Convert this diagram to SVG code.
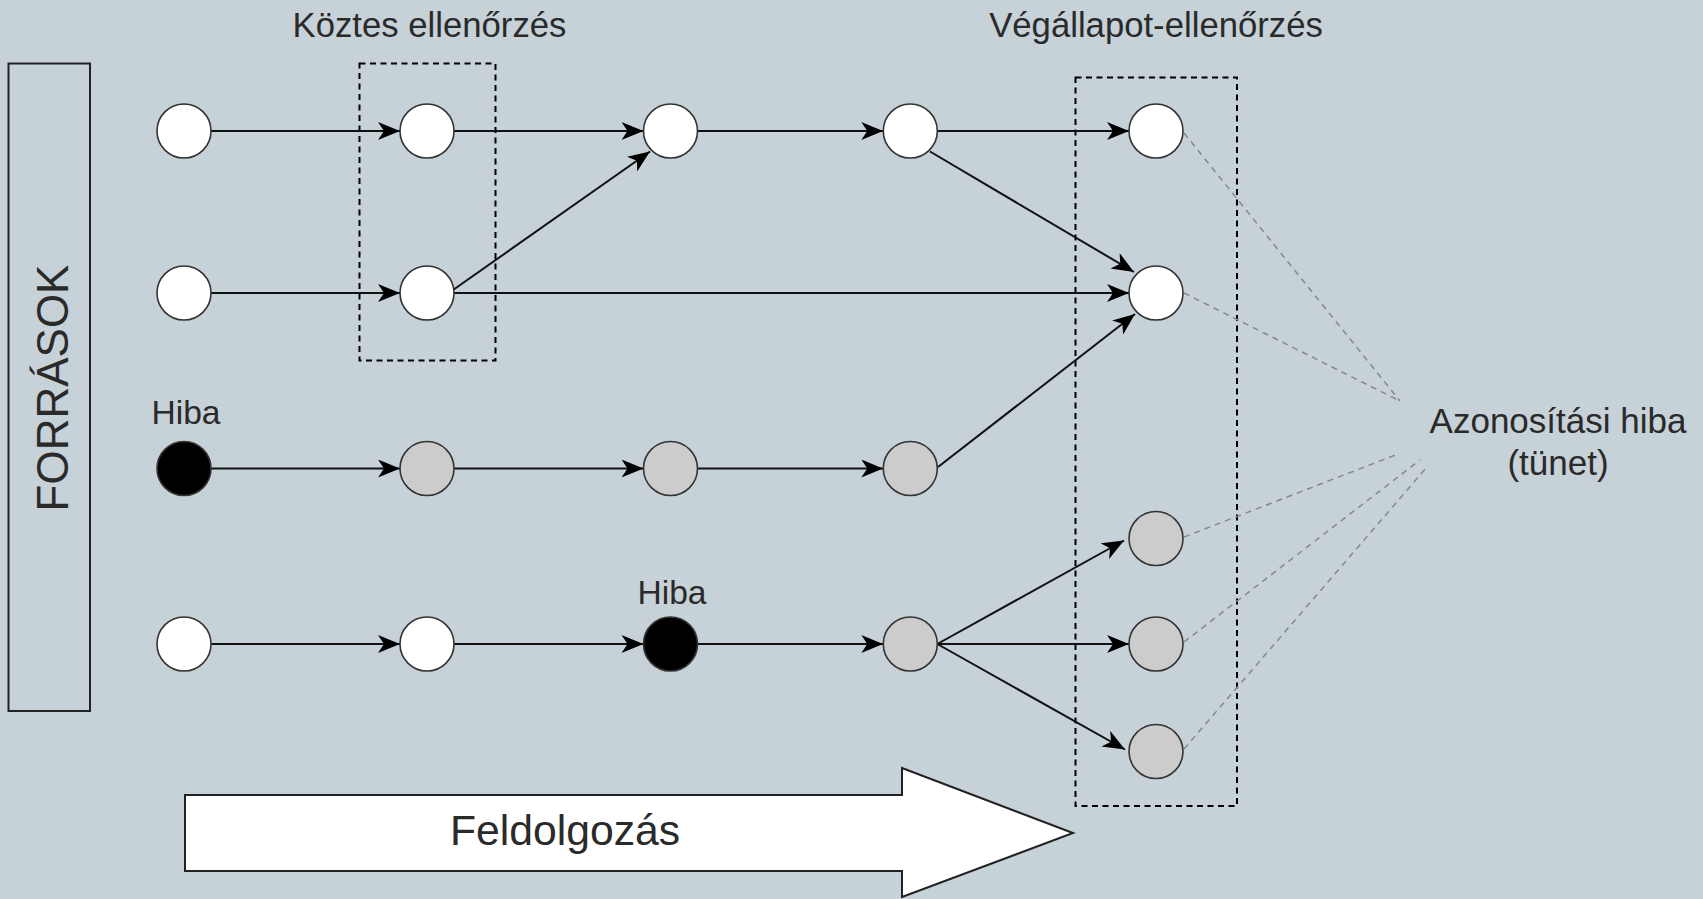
<svg xmlns="http://www.w3.org/2000/svg" width="1703" height="899" viewBox="0 0 1703 899">
<defs>
<marker id="arr" viewBox="0 0 22 18" refX="22" refY="9" markerWidth="22" markerHeight="18" markerUnits="userSpaceOnUse" orient="auto">
<path d="M0,0 L22,9 L0,18 L6,9 Z" fill="#000"/>
</marker>
<style>
.t{font-family:"Liberation Sans",Arial,sans-serif;fill:#2a2a2a;}
.n{stroke:#333;stroke-width:1.6;}
.w{fill:#fff;}
.g{fill:#ccc;}
.b{fill:#000;}
.e{stroke:#111;stroke-width:2;fill:none;marker-end:url(#arr);}
.d{stroke:#000;stroke-width:2;fill:none;stroke-dasharray:6 4.5;}
.s{stroke:#888;stroke-width:1.5;fill:none;stroke-dasharray:6 5;}
</style>
</defs>
<rect width="1703" height="899" fill="#c6d1d8"/>

<g id="forrasok">
<rect x="8.5" y="63.5" width="81.5" height="647.5" fill="none" stroke="#222" stroke-width="2"/>
<text class="t" x="68" y="388" transform="rotate(-90 68 388)" text-anchor="middle" font-size="44">FORRÁSOK</text>
</g>

<g id="koztes-box">
<rect class="d" x="359.5" y="63.5" width="136" height="297"/>
<text class="t" x="429.5" y="37" text-anchor="middle" font-size="34.7">Köztes ellenőrzés</text>
</g>

<g id="vegallapot-box">
<rect class="d" x="1075.5" y="77.5" width="161.5" height="728.5"/>
<text class="t" x="1156" y="37" text-anchor="middle" font-size="34.7">Végállapot-ellenőrzés</text>
</g>

<g id="feldolgozas">
<polygon points="185,795 902,795 902,768 1073,833 902,897 902,871 185,871" fill="#fff" stroke="#222" stroke-width="2"/>
<text class="t" x="565" y="845" text-anchor="middle" font-size="42.7">Feldolgozás</text>
</g>

<g id="connectors">
<line class="e" x1="211" y1="131" x2="400" y2="131"/>
<line class="e" x1="454" y1="131" x2="643.5" y2="131"/>
<line class="e" x1="697.5" y1="131" x2="883.3" y2="131"/>
<line class="e" x1="937.3" y1="131" x2="1129" y2="131"/>

<line class="e" x1="211" y1="293" x2="400" y2="293"/>
<line class="e" x1="454" y1="293" x2="1129" y2="293"/>
<line class="e" x1="453" y1="290" x2="650" y2="151.5"/>
<line class="e" x1="930" y1="151.5" x2="1134" y2="272"/>

<line class="e" x1="211" y1="468.5" x2="400" y2="468.5"/>
<line class="e" x1="454" y1="468.5" x2="643.5" y2="468.5"/>
<line class="e" x1="697.5" y1="468.5" x2="883.3" y2="468.5"/>
<line class="e" x1="938" y1="467" x2="1135" y2="314"/>

<line class="e" x1="211" y1="644" x2="400" y2="644"/>
<line class="e" x1="454" y1="644" x2="643.5" y2="644"/>
<line class="e" x1="697.5" y1="644" x2="883.3" y2="644"/>
<line class="e" x1="937.3" y1="644" x2="1124" y2="540.5"/>
<line class="e" x1="937.3" y1="644" x2="1129" y2="644"/>
<line class="e" x1="937.3" y1="644" x2="1125" y2="749.5"/>

<line class="s" x1="1184" y1="133" x2="1400" y2="401"/>
<line class="s" x1="1184" y1="293" x2="1400" y2="401"/>
<line class="s" x1="1184" y1="537" x2="1398" y2="454"/>
<line class="s" x1="1184" y1="642" x2="1420" y2="460"/>
<line class="s" x1="1184" y1="749" x2="1427" y2="467"/>
</g>

<g id="r1c1"><circle class="n w" cx="184" cy="131" r="27"/></g>
<g id="r1c2"><circle class="n w" cx="427" cy="131" r="27"/></g>
<g id="r1c3"><circle class="n w" cx="670.5" cy="131" r="27"/></g>
<g id="r1c4"><circle class="n w" cx="910.3" cy="131" r="27"/></g>
<g id="r1c5"><circle class="n w" cx="1156" cy="131" r="27"/></g>

<g id="r2c1"><circle class="n w" cx="184" cy="293" r="27"/></g>
<g id="r2c2"><circle class="n w" cx="427" cy="293" r="27"/></g>
<g id="r2c5"><circle class="n w" cx="1156" cy="293" r="27"/></g>

<g id="r3c1"><circle class="n b" cx="184" cy="468.5" r="27"/><text class="t" x="186" y="424" text-anchor="middle" font-size="33.6">Hiba</text></g>
<g id="r3c2"><circle class="n g" cx="427" cy="468.5" r="27"/></g>
<g id="r3c3"><circle class="n g" cx="670.5" cy="468.5" r="27"/></g>
<g id="r3c4"><circle class="n g" cx="910.3" cy="468.5" r="27"/></g>

<g id="r4c1"><circle class="n w" cx="184" cy="644" r="27"/></g>
<g id="r4c2"><circle class="n w" cx="427" cy="644" r="27"/></g>
<g id="r4c3"><circle class="n b" cx="670.5" cy="644" r="27"/><text class="t" x="672" y="604" text-anchor="middle" font-size="33.6">Hiba</text></g>
<g id="r4c4"><circle class="n g" cx="910.3" cy="644" r="27"/></g>

<g id="v1"><circle class="n g" cx="1156" cy="538.5" r="27"/></g>
<g id="v2"><circle class="n g" cx="1156" cy="644" r="27"/></g>
<g id="v3"><circle class="n g" cx="1156" cy="751.5" r="27"/></g>

<g id="azonositasi">
<text class="t" x="1558" y="433" text-anchor="middle" font-size="35">Azonosítási hiba</text>
<text class="t" x="1558" y="475" text-anchor="middle" font-size="35">(tünet)</text>
</g>
</svg>
